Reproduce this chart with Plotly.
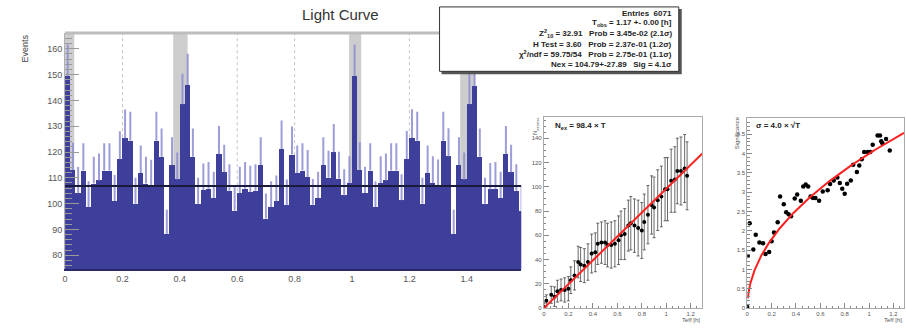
import numpy as np
import plotly.graph_objects as go

# ---------------- data ----------------
bin_width = 1.0 / 55
lc_counts = [
    149.4, 113.0, 104.0, 112.8, 98.7, 107.8, 109.0, 112.8, 112.8, 101.0,
    117.2, 125.3, 124.4, 100.0, 111.9, 107.8, 106.7, 124.4, 118.2, 88.2,
    115.0, 109.4, 138.5, 146.0, 118.2, 100.0, 105.3, 105.8, 102.2, 119.2,
    112.2, 105.0, 97.2, 104.1, 105.8, 104.5, 105.0, 115.0, 94.2, 98.7,
    100.9, 121.2, 99.4, 119.0, 111.9, 112.8, 110.3, 99.6, 102.2, 115.0,
    110.0, 119.9, 109.6, 103.2, 108.0,
    149.4, 113.1, 104.1, 112.8, 98.7, 108.0, 109.0, 112.8, 112.8, 101.3,
    117.3, 125.4, 124.4, 100.0, 111.9, 108.0, 106.8, 124.4, 118.3, 88.2,
    115.0, 109.4, 138.5, 145.5, 118.2, 100.0, 105.5, 105.8, 102.2, 119.2,
    112.2, 105.0, 97.2,
]
mean_level = 106.79
on_band_start = [-0.01, 0.377, 0.99, 1.377]
on_band_end = [0.032, 0.427, 1.032, 1.427]
lc_xticks = [0, 0.2, 0.4, 0.6, 0.8, 1.0, 1.2, 1.4]
lc_xticktext = ["0", "0.2", "0.4", "0.6", "0.8", "1", "1.2", "1.4"]

stats_lines = [
    "Entries  6071",
    "T<sub>obs</sub> = 1.17 +- 0.00 [h]",
    "Z<sup>2</sup><sub>10</sub> = 32.91   Prob = 3.45e-02 (2.1σ)",
    "H Test = 3.60   Prob = 2.37e-01 (1.2σ)",
    "χ<sup>2</sup>/ndf = 59.75/54   Prob = 2.75e-01 (1.1σ)",
    "Nex = 104.79+-27.89   Sig = 4.1σ",
]

nex_T = [0.0, 0.02, 0.06, 0.087, 0.11, 0.14, 0.17, 0.2, 0.22, 0.25,
         0.28, 0.3, 0.33, 0.36, 0.39, 0.42, 0.44, 0.47, 0.5, 0.52,
         0.55, 0.58, 0.61, 0.63, 0.66, 0.69, 0.71, 0.74, 0.77, 0.8,
         0.82, 0.85, 0.88, 0.9, 0.93, 0.96, 0.99, 1.01, 1.04, 1.07,
         1.09, 1.12, 1.15, 1.17]
nex_N = [1, 6, 11, 9.5, 14, 15, 15, 16, 23, 27,
         38, 36, 35, 38, 45, 46, 53, 54, 54, 52,
         52, 53, 56, 60, 61, 68, 70, 68, 66, 64,
         71, 77, 85, 83, 89, 92, 98, 98, 105, 106,
         113, 113, 115, 109]
nex_err = [3, 5, 7, 8, 9, 9, 10, 10, 11, 12,
           13, 14, 14, 15, 16, 16, 17, 17, 18, 18,
           19, 19, 20, 20, 21, 21, 22, 22, 23, 23,
           23, 24, 24, 25, 25, 25, 26, 26, 26, 27,
           27, 28, 28, 28]
nex_slope = 98.4

sig_T = [0.0, 0.004, 0.02, 0.05, 0.07, 0.10, 0.13, 0.15, 0.18, 0.20,
         0.22, 0.25, 0.27, 0.30, 0.32, 0.34, 0.36, 0.39, 0.41, 0.44,
         0.46, 0.48, 0.50, 0.52, 0.54, 0.56, 0.59, 0.62, 0.66, 0.68,
         0.71, 0.74, 0.76, 0.78, 0.80, 0.82, 0.85, 0.87, 0.90, 0.92,
         0.94, 0.96, 0.99, 1.01, 1.03, 1.07, 1.09, 1.10, 1.11, 1.14, 1.17]
sig_S = [0.03, 1.35, 2.2, 1.52, 1.9, 1.7, 1.68, 1.4, 1.45, 1.73,
         1.96, 2.22, 2.89, 2.69, 2.48, 2.43, 2.38, 2.84, 2.94, 2.78,
         3.15, 3.2, 3.15, 2.89, 2.85, 2.85, 2.78, 3.02, 3.05, 3.21,
         3.3, 3.38, 3.24, 3.09, 2.96, 3.22, 3.3, 3.71, 3.52, 3.69,
         3.85, 4.04, 4.04, 4.04, 4.23, 4.47, 4.47, 4.32, 4.27, 4.38, 4.08]
sig_coef = 4.0

# ---------------- layout helpers ----------------
W, H = 906, 328
FONT = "Liberation Sans, Arial, sans-serif"


def px(xp):
    return xp / W


def py(yp):
    return 1 - yp / H


main_x = [px(62.3), px(520)]
main_y = [py(271.7), py(33.3)]
p2_x = [px(542.7), px(701.7)]
p2_y = [py(311), py(118.3)]
p3_x = [px(746.7), px(904)]
p3_y = [py(311), py(119.3)]

MAIN_XR = [0, 1.59]
MAIN_YR = [74.6, 166.1]
P2_XR = [0, 1.295]
P2_YR = [0, 157.3]
P3_XR = [0, 1.287]
P3_YR = [0, 4.915]

fig = go.Figure()

# ---------------- light curve ----------------
counts = np.array(lc_counts)
centers = (np.arange(len(counts)) + 0.5) * bin_width
errs = np.sqrt(counts)

fig.add_trace(go.Bar(
    x=centers, y=counts, width=bin_width,
    marker=dict(color="#3e3e9b", line=dict(width=0)),
    xaxis="x", yaxis="y", showlegend=False, hoverinfo="skip",
))

ex, ey = [], []
for c, v, e in zip(centers, counts, errs):
    ex += [c, c, None]
    ey += [v, v + e, None]
fig.add_trace(go.Scatter(
    x=ex, y=ey, mode="lines",
    line=dict(color="rgba(140,140,210,0.85)", width=2),
    xaxis="x", yaxis="y", showlegend=False, hoverinfo="skip",
))

fig.add_trace(go.Scatter(
    x=[MAIN_XR[0], MAIN_XR[1]], y=[mean_level, mean_level], mode="lines",
    line=dict(color="#1a1a3a", width=2),
    xaxis="x", yaxis="y", showlegend=False, hoverinfo="skip",
))

shapes = []
# dashed vertical grid at the tick positions (below the bands)
for t in lc_xticks[1:]:
    shapes.append(dict(type="line", xref="x", yref="y domain", x0=t, x1=t, y0=0, y1=1,
                       line=dict(color="#c4c4c4", width=1, dash="dot"), layer="below"))
for s, e in zip(on_band_start, on_band_end):
    shapes.append(dict(type="rect", xref="x", yref="y domain", x0=s, x1=e, y0=0, y1=1,
                       fillcolor="#cdcdcd", line=dict(width=0), layer="below"))
shapes.append(dict(type="line", xref="x domain", yref="y domain", x0=0, x1=1, y0=1, y1=1,
                   line=dict(color="#bdbdbd", width=3), layer="above"))

# ---------------- N_excess panel ----------------
fig.add_trace(go.Scatter(
    x=nex_T, y=nex_N, mode="markers",
    marker=dict(color="black", size=4),
    error_y=dict(type="data", array=nex_err, color="#444444", thickness=0.8, width=1.5),
    xaxis="x2", yaxis="y2", showlegend=False, hoverinfo="skip",
))
fx = np.array(P2_XR)
fig.add_trace(go.Scatter(
    x=fx, y=nex_slope * fx, mode="lines",
    line=dict(color="#ff2020", width=2),
    xaxis="x2", yaxis="y2", showlegend=False, hoverinfo="skip",
))

# ---------------- significance panel ----------------
fig.add_trace(go.Scatter(
    x=sig_T, y=sig_S, mode="markers",
    marker=dict(color="black", size=4.5),
    xaxis="x3", yaxis="y3", showlegend=False, hoverinfo="skip",
))
tt = np.linspace(0.004, P3_XR[1], 300)
fig.add_trace(go.Scatter(
    x=tt, y=sig_coef * np.sqrt(tt), mode="lines",
    line=dict(color="#ff2020", width=2),
    xaxis="x3", yaxis="y3", showlegend=False, hoverinfo="skip",
))

# ---------------- stats box ----------------
shapes.append(dict(type="rect", xref="paper", yref="paper",
                   x0=px(440), x1=px(681), y0=py(75), y1=py(9),
                   fillcolor="#555555", line=dict(width=0), layer="above"))
shapes.append(dict(type="rect", xref="paper", yref="paper",
                   x0=px(438), x1=px(678), y0=py(72), y1=py(7),
                   fillcolor="white", line=dict(color="#333333", width=1), layer="above"))

annotations = []
line_y = [14, 23.5, 34, 44.5, 55, 65]
for txt, yy in zip(stats_lines, line_y):
    annotations.append(dict(
        text="<b>" + txt + "</b>", xref="paper", yref="paper",
        x=px(673), y=py(yy), xanchor="right", yanchor="middle", showarrow=False,
        font=dict(family=FONT, size=8, color="#222222"),
    ))

annotations.append(dict(text="Light Curve", xref="paper", yref="paper",
                        x=px(339), y=py(15), xanchor="center", yanchor="middle", showarrow=False,
                        font=dict(family=FONT, size=15, color="#333333")))
annotations.append(dict(text="Events", xref="paper", yref="paper", textangle=-90,
                        x=px(22), y=py(49), xanchor="center", yanchor="middle", showarrow=False,
                        font=dict(family=FONT, size=9, color="#444444")))
annotations.append(dict(text="<b>N<sub>ex</sub> = 98.4 × T</b>", xref="paper", yref="paper",
                        x=px(552), y=py(127), xanchor="left", yanchor="middle", showarrow=False,
                        font=dict(family=FONT, size=8, color="#222222")))
annotations.append(dict(text="<b>σ = 4.0 × √T</b>", xref="paper", yref="paper",
                        x=px(753), y=py(127), xanchor="left", yanchor="middle", showarrow=False,
                        font=dict(family=FONT, size=8, color="#222222")))
annotations.append(dict(text="N<sub>excess</sub>", xref="paper", yref="paper", textangle=-90,
                        x=px(535), y=py(128), xanchor="center", yanchor="middle", showarrow=False,
                        font=dict(family=FONT, size=6, color="#555555")))
annotations.append(dict(text="Significance", xref="paper", yref="paper", textangle=-90,
                        x=px(736), y=py(134), xanchor="center", yanchor="middle", showarrow=False,
                        font=dict(family=FONT, size=6, color="#555555")))
annotations.append(dict(text="Teff [h]", xref="paper", yref="paper",
                        x=px(701), y=py(323), xanchor="right", yanchor="middle", showarrow=False,
                        font=dict(family=FONT, size=6, color="#555555")))
annotations.append(dict(text="Teff [h]", xref="paper", yref="paper",
                        x=px(904), y=py(323), xanchor="right", yanchor="middle", showarrow=False,
                        font=dict(family=FONT, size=6, color="#555555")))

small_axis = dict(showline=True, mirror=True, linecolor="#aaaaaa", linewidth=1,
                  ticks="inside", ticklen=5, tickcolor="#888888", showgrid=False, zeroline=False,
                  tickfont=dict(family=FONT, size=6, color="#555555"))

fig.update_layout(
    width=W, height=H, autosize=False,
    margin=dict(l=0, r=0, t=0, b=0),
    paper_bgcolor="white", plot_bgcolor="white",
    bargap=0, showlegend=False,
    font=dict(family=FONT),
    xaxis=dict(domain=main_x, range=MAIN_XR, anchor="y",
               tickvals=lc_xticks, ticktext=lc_xticktext, ticks="",
               showgrid=False,
               zeroline=False, showline=True, linecolor="#2a2a6a", linewidth=1.5,
               tickfont=dict(family=FONT, size=9, color="#555555")),
    yaxis=dict(domain=main_y, range=MAIN_YR, anchor="x",
               tickvals=[80, 90, 100, 110, 120, 130, 140, 150, 160],
               ticks="inside", ticklen=14, tickcolor="#9a9a9a", tickwidth=1,
               minor=dict(ticks="inside", ticklen=7, dtick=2, tickcolor="#9a9a9a", showgrid=False),
               showgrid=False, zeroline=False, showline=True, linecolor="#b0b0b0", linewidth=1,
               tickfont=dict(family=FONT, size=9, color="#555555")),
    xaxis2=dict(domain=p2_x, range=P2_XR, anchor="y2",
                tickvals=[0, 0.2, 0.4, 0.6, 0.8, 1.0, 1.2],
                ticktext=["0", "0.2", "0.4", "0.6", "0.8", "1", "1.2"],
                minor=dict(ticks="inside", ticklen=2.5, dtick=0.05, tickcolor="#888888"),
                **small_axis),
    yaxis2=dict(domain=p2_y, range=P2_YR, anchor="x2", dtick=20, tick0=0,
                minor=dict(ticks="inside", ticklen=2.5, dtick=5, tickcolor="#888888"),
                **small_axis),
    xaxis3=dict(domain=p3_x, range=P3_XR, anchor="y3",
                tickvals=[0, 0.2, 0.4, 0.6, 0.8, 1.0, 1.2],
                ticktext=["0", "0.2", "0.4", "0.6", "0.8", "1", "1.2"],
                minor=dict(ticks="inside", ticklen=2.5, dtick=0.05, tickcolor="#888888"),
                **small_axis),
    yaxis3=dict(domain=p3_y, range=P3_YR, anchor="x3", dtick=0.5, tick0=0,
                minor=dict(ticks="inside", ticklen=2.5, dtick=0.1, tickcolor="#888888"),
                **small_axis),
    shapes=shapes,
    annotations=annotations,
)

fig.write_html("out.html")
